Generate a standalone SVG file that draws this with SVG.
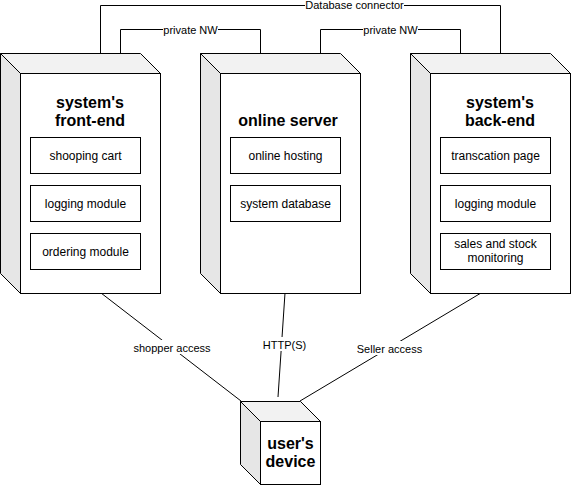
<svg xmlns="http://www.w3.org/2000/svg" width="572" height="487" viewBox="0 0 572 487">
<style>
  .edge{fill:none;stroke:#000;stroke-width:1}
  .lbl{font-family:"Liberation Sans",Arial,sans-serif;font-size:11px;fill:#000;text-anchor:middle}
  .lblbg{fill:#fff}
  .top{fill:#f2f2f2;stroke:#000;stroke-width:1}
  .side{fill:#e6e6e6;stroke:#000;stroke-width:1}
  .front{fill:#fff;stroke:#000;stroke-width:1}
  .title{font-family:"Liberation Sans",Arial,sans-serif;font-size:16px;font-weight:bold;fill:#000;text-anchor:middle}
  .box{fill:#fff;stroke:#000;stroke-width:1}
  .boxt{font-family:"Liberation Sans",Arial,sans-serif;font-size:12px;fill:#000;text-anchor:middle}
</style>
<rect width="572" height="487" fill="#fff"/>
<g id="connectors">
  <path class="edge" d="M100.5,53.5 V5.5 H500.5 V53.5"/>
  <rect class="lblbg" x="305" y="-1" width="99" height="12"/>
  <text class="lbl" x="354.5" y="9">Database connector</text>
  <path class="edge" d="M120.5,53.5 V29.5 H260.5 V53.5"/>
  <rect class="lblbg" x="163" y="23" width="55" height="12"/>
  <text class="lbl" x="190.5" y="33.5">private NW</text>
  <path class="edge" d="M320.5,53.5 V29.5 H460.5 V53.5"/>
  <rect class="lblbg" x="363" y="23" width="55" height="12"/>
  <text class="lbl" x="390.5" y="33.5">private NW</text>
  <path class="edge" d="M101,293 L241,401"/>
  <rect class="lblbg" x="133" y="340" width="78" height="14"/>
  <text class="lbl" x="172" y="351.5">shopper access</text>
  <path class="edge" d="M285,293 L278,397"/>
  <rect class="lblbg" x="262" y="337" width="45" height="14"/>
  <text class="lbl" x="284.5" y="348.5">HTTP(S)</text>
  <path class="edge" d="M481,293 L300,401"/>
  <rect class="lblbg" x="356" y="341" width="67" height="14"/>
  <text class="lbl" x="389.5" y="352.5">Seller access</text>
</g>
<g id="frontend">
  <path class="top" d="M0.5,53.5 H140.5 L160.5,73.5 H20.5 Z"/>
  <path class="side" d="M0.5,53.5 L20.5,73.5 V293.5 L0.5,273.5 Z"/>
  <rect class="front" x="20.5" y="73.5" width="140" height="220"/>
  <text class="title" x="90" y="107.5">system's</text>
  <text class="title" x="90" y="126">front-end</text>
  <rect class="box" x="30.5" y="137.5" width="110" height="36"/>
  <text class="boxt" x="85.5" y="159.5">shooping cart</text>
  <rect class="box" x="30.5" y="185.5" width="110" height="36"/>
  <text class="boxt" x="85.5" y="207.5">logging module</text>
  <rect class="box" x="30.5" y="233.5" width="110" height="36"/>
  <text class="boxt" x="85.5" y="255.5">ordering module</text>
</g>
<g id="server">
  <path class="top" d="M200.5,53.5 H340.5 L360.5,73.5 H220.5 Z"/>
  <path class="side" d="M200.5,53.5 L220.5,73.5 V293.5 L200.5,273.5 Z"/>
  <rect class="front" x="220.5" y="73.5" width="140" height="220"/>
  <text class="title" x="288" y="125.5">online server</text>
  <rect class="box" x="230.5" y="137.5" width="110" height="36"/>
  <text class="boxt" x="285.5" y="159.5">online hosting</text>
  <rect class="box" x="230.5" y="185.5" width="110" height="36"/>
  <text class="boxt" x="285.5" y="207.5">system database</text>
</g>
<g id="backend">
  <path class="top" d="M410.5,53.5 H550.5 L570.5,73.5 H430.5 Z"/>
  <path class="side" d="M410.5,53.5 L430.5,73.5 V293.5 L410.5,273.5 Z"/>
  <rect class="front" x="430.5" y="73.5" width="140" height="220"/>
  <text class="title" x="500" y="107.5">system's</text>
  <text class="title" x="500" y="126">back-end</text>
  <rect class="box" x="440.5" y="137.5" width="110" height="36"/>
  <text class="boxt" x="495.5" y="159.5">transcation page</text>
  <rect class="box" x="440.5" y="185.5" width="110" height="36"/>
  <text class="boxt" x="495.5" y="207.5">logging module</text>
  <rect class="box" x="440.5" y="233.5" width="110" height="36"/>
  <text class="boxt" x="495.5" y="248">sales and stock</text>
  <text class="boxt" x="495.5" y="262">monitoring</text>
</g>
<g id="device">
  <path class="top" d="M240.5,401.5 H300.5 L320.5,421.5 H260.5 Z"/>
  <path class="side" d="M240.5,401.5 L260.5,421.5 V484.5 L240.5,464.5 Z"/>
  <rect class="front" x="260.5" y="421.5" width="60" height="63"/>
  <text class="title" x="290.5" y="448.5">user's</text>
  <text class="title" x="290.5" y="467">device</text>
</g>
</svg>
